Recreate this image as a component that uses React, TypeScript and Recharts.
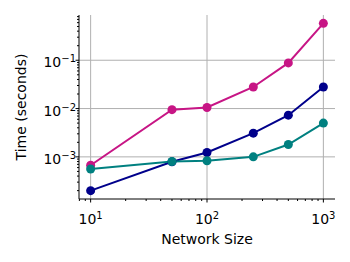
import { LineChart, Line, XAxis, YAxis, CartesianGrid } from 'recharts';

const NETWORK_SIZES = [10, 50, 100, 250, 500, 1000];
const TIME_MAGENTA = [0.00067, 0.0095, 0.0105, 0.028, 0.088, 0.58];
const TIME_NAVY = [0.0002, 0.00079, 0.00123, 0.0031, 0.0073, 0.028];
const TIME_TEAL = [0.00056, 0.0008, 0.00083, 0.001, 0.0018, 0.005];

const X_MAJOR = [10, 100, 1000];
const Y_MAJOR = [0.001, 0.01, 0.1];

const FONT = '"DejaVu Sans", sans-serif';

// matplotlib style 5% margin in log space
const logDomain = (vals: number[]): [number, number] => {
    const lo = Math.log10(Math.min(...vals));
    const hi = Math.log10(Math.max(...vals));
    const m = (hi - lo) * 0.05;
    return [Math.pow(10, lo - m), Math.pow(10, hi + m)];
};

const logTicks = (domain: [number, number]) => {
    const out: number[] = [];
    for (let d = Math.floor(Math.log10(domain[0])); d <= Math.ceil(Math.log10(domain[1])); d++) {
        for (let k = 1; k <= 9; k++) {
            const v = k * Math.pow(10, d);
            if (v >= domain[0] && v <= domain[1]) out.push(v);
        }
    }
    return out;
};

const isMajor = (v: number) => {
    const l = Math.log10(v);
    return Math.abs(l - Math.round(l)) < 1e-9;
};

const exp = (v: number) => {
    const e = Math.round(Math.log10(v));
    return e < 0 ? '\u2212' + Math.abs(e) : String(e);
};

const data = NETWORK_SIZES.map((n, i) => ({
    n,
    magenta: TIME_MAGENTA[i],
    navy: TIME_NAVY[i],
    teal: TIME_TEAL[i],
}));

const xDomain = logDomain(NETWORK_SIZES);
const yDomain = logDomain([...TIME_MAGENTA, ...TIME_NAVY, ...TIME_TEAL]);

const XTick = ({ x, y, payload }: any) => {
    const major = isMajor(payload.value);
    return (
        <g>
            <line x1={x} x2={x} y1={y} y2={y + (major ? 3.5 : 2)} stroke="#000" strokeWidth={1} />
            {major && (
                <text x={x} y={y + 25} textAnchor="middle" fontFamily={FONT} fontSize={14} fill="#000">
                    10<tspan dy={-5} fontSize={10}>{exp(payload.value)}</tspan>
                </text>
            )}
        </g>
    );
};

const YTick = ({ x, y, payload }: any) => {
    const major = isMajor(payload.value);
    return (
        <g>
            <line x1={x - (major ? 3.5 : 2)} x2={x} y1={y} y2={y} stroke="#000" strokeWidth={1} />
            {major && (
                <text x={x - 3} y={y + 7} textAnchor="end" fontFamily={FONT} fontSize={14} fill="#000">
                    10<tspan dy={-5} fontSize={10}>{exp(payload.value)}</tspan>
                </text>
            )}
        </g>
    );
};

const series = [
    { key: 'magenta', color: '#c71585' },
    { key: 'navy', color: '#00008b' },
    { key: 'teal', color: '#008080' },
];

export default function App() {
    return (
        <div style={{ position: 'absolute', left: 0, top: 0, background: '#fff' }}>
            <LineChart width={350} height={262} data={data} margin={{ top: 15, right: 15, left: 0, bottom: 0 }}>
                <CartesianGrid
                    verticalValues={X_MAJOR}
                    horizontalValues={Y_MAJOR}
                    stroke="#b0b0b0"
                    strokeWidth={1}
                    strokeDasharray=""
                />
                <XAxis
                    dataKey="n"
                    type="number"
                    scale="log"
                    domain={xDomain}
                    allowDataOverflow
                    ticks={logTicks(xDomain)}
                    interval={0}
                    tick={<XTick />}
                    tickLine={false}
                    tickSize={0}
                    tickMargin={0}
                    height={63}
                    axisLine={{ stroke: '#000', strokeWidth: 1 }}
                    label={{
                        content: ({ viewBox }: any) => (
                            <text
                                x={viewBox.x + viewBox.width / 2}
                                y={viewBox.y + 45}
                                textAnchor="middle"
                                fontFamily={FONT}
                                fontSize={14}
                                fill="#000"
                            >
                                Network Size
                            </text>
                        ),
                    }}
                />
                <XAxis
                    xAxisId="top"
                    orientation="top"
                    dataKey="n"
                    type="number"
                    scale="log"
                    domain={xDomain}
                    allowDataOverflow
                    tick={false}
                    tickLine={false}
                    height={0}
                    axisLine={{ stroke: '#000', strokeWidth: 1 }}
                />
                <YAxis
                    type="number"
                    scale="log"
                    domain={yDomain}
                    allowDataOverflow
                    ticks={logTicks(yDomain)}
                    interval={0}
                    tick={<YTick />}
                    tickLine={false}
                    tickSize={0}
                    tickMargin={0}
                    width={79}
                    axisLine={{ stroke: '#000', strokeWidth: 1 }}
                    label={{
                        content: ({ viewBox }: any) => (
                            <text
                                x={25.5}
                                y={viewBox.y + viewBox.height / 2}
                                transform={`rotate(-90 25.5 ${viewBox.y + viewBox.height / 2})`}
                                textAnchor="middle"
                                fontFamily={FONT}
                                fontSize={14}
                                fill="#000"
                            >
                                Time (seconds)
                            </text>
                        ),
                    }}
                />
                <YAxis
                    yAxisId="right"
                    orientation="right"
                    type="number"
                    scale="log"
                    domain={yDomain}
                    allowDataOverflow
                    tick={false}
                    tickLine={false}
                    width={0}
                    axisLine={{ stroke: '#000', strokeWidth: 1 }}
                />
                {series.map(s => (
                    <Line
                        key={s.key}
                        dataKey={s.key}
                        stroke={s.color}
                        strokeWidth={2}
                        dot={{ r: 4.5, fill: s.color, stroke: s.color, strokeWidth: 0 }}
                        activeDot={false}
                        isAnimationActive={false}
                    />
                ))}
            </LineChart>
        </div>
    );
}
